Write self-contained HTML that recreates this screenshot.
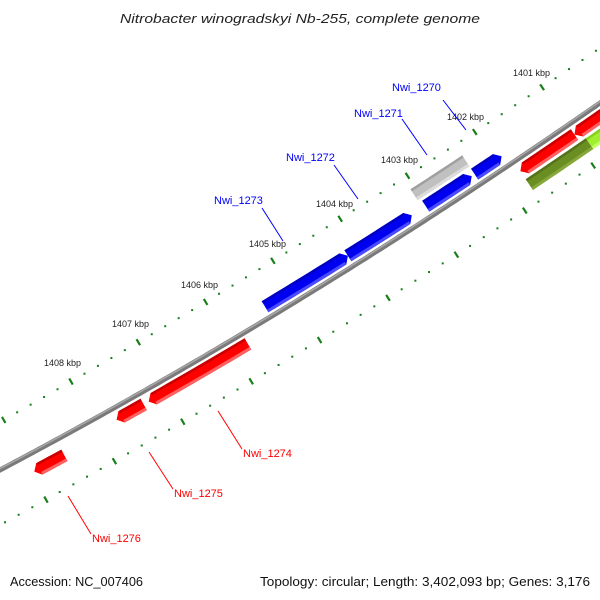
<!DOCTYPE html>
<html><head><meta charset="utf-8"><style>
html,body{margin:0;padding:0;background:#fff;}
svg{display:block;}
text{font-family:"Liberation Sans",sans-serif;}
</style></head><body>
<svg id="s" width="600" height="600" viewBox="0 0 600 600" xmlns="http://www.w3.org/2000/svg">
<text x="120" y="23" textLength="360" lengthAdjust="spacingAndGlyphs" font-size="13" font-style="italic" fill="#222">Nitrobacter winogradskyi Nb-255, complete genome</text>
<text x="10" y="586" textLength="133" lengthAdjust="spacingAndGlyphs" font-size="13" fill="#111">Accession: NC_007406</text>
<text x="260" y="586" textLength="330" lengthAdjust="spacingAndGlyphs" font-size="13" fill="#111">Topology: circular; Length: 3,402,093 bp; Genes: 3,176</text>
<g id="g"></g>
<g font-size="9" fill="#222">
<text x="44" y="366">1408 kbp</text>
<text x="112" y="327">1407 kbp</text>
<text x="181" y="288">1406 kbp</text>
<text x="249" y="247">1405 kbp</text>
<text x="316" y="207">1404 kbp</text>
<text x="381" y="163">1403 kbp</text>
<text x="447" y="120">1402 kbp</text>
<text x="513" y="76">1401 kbp</text>
</g>
<g font-size="11" fill="#0000ff">
<text x="392" y="91">Nwi_1270</text>
<text x="354" y="117">Nwi_1271</text>
<text x="286" y="161">Nwi_1272</text>
<text x="214" y="204">Nwi_1273</text>
</g>
<g stroke="#0000ff" stroke-width="1">
<line x1="443" y1="100" x2="466" y2="130"/>
<line x1="402" y1="119" x2="427" y2="155"/>
<line x1="334" y1="165" x2="358" y2="199"/>
<line x1="262" y1="208" x2="283" y2="241"/>
</g>
<g font-size="11" fill="#ff0000">
<text x="243" y="457">Nwi_1274</text>
<text x="174" y="497">Nwi_1275</text>
<text x="92" y="542">Nwi_1276</text>
</g>
<g stroke="#ff0000" stroke-width="1">
<line x1="218" y1="411" x2="242" y2="449"/>
<line x1="149" y1="452" x2="173" y2="489"/>
<line x1="68" y1="496" x2="91" y2="534"/>
</g>
</svg>
<script>
var NS="http://www.w3.org/2000/svg",G=document.getElementById('g');
function mk(t,a){var e=document.createElementNS(NS,t);for(var k in a)e.setAttribute(k,a[k]);G.appendChild(e);return e;}
function ring(y0,c,y2){return function(x,d){var t=x/600;var y=(1-t)*(1-t)*y0+2*t*(1-t)*c+t*t*y2;var dy=2*(1-t)*(c-y0)+2*t*(y2-c);var L=Math.hypot(600,dy);var nx=dy/L,ny=-600/L;return [x+nx*d,y+ny*d];};}
var B=ring(470,311.5,103),O=ring(422,253,48),I=ring(525,361,161);
function ticks(R,x0,sp){for(var k=-2;k<12;k++){var xm=x0+k*sp;for(var j=0;j<5;j++){var x=xm+j*sp/5;if(x<0||x>600)continue;if(j==0){var a=R(x,-3.5),b=R(x,3.5);mk('line',{x1:a[0],y1:a[1],x2:b[0],y2:b[1],stroke:'#1a7f1a','stroke-width':2.2});}else{var p=R(x,0);mk('rect',{x:p[0]-1,y:p[1]-1,width:2,height:2,fill:'#1a7f1a'});}}}}
ticks(O,71,67.3);ticks(I,46,68.4);
function pts(a){return a.map(function(p){return p[0].toFixed(1)+','+p[1].toFixed(1)}).join(' ');}
function band(xa,xb,r1,r2,n){var a=[];for(var i=0;i<=n;i++)a.push(B(xa+(xb-xa)*i/n,r1));for(var i=n;i>=0;i--)a.push(B(xa+(xb-xa)*i/n,r2));return a;}
function gene(xa,xb,r1,r2,dir,c,dk,lt){
 var tip=dir==0?0:5,n=10,a=[];
 var xs=dir<0?xa+tip:xa,xe=dir>0?xb-tip:xb;
 for(var i=0;i<=n;i++)a.push(B(xs+(xe-xs)*i/n,r1));
 if(dir>0)a.push(B(xb,(r1+r2)/2));
 for(var i=n;i>=0;i--)a.push(B(xs+(xe-xs)*i/n,r2));
 if(dir<0)a.push(B(xa,(r1+r2)/2));
 mk('polygon',{points:pts(a),fill:c});
 var top=Math.max(r1,r2),bot=Math.min(r1,r2);
 mk('polygon',{points:pts(band(xs,xe,top,top-2.5,n)),fill:dk});
 mk('polygon',{points:pts(band(xs,xe,bot,bot+3,n)),fill:lt});
}
var bp=[];for(var x=-5;x<=605;x+=5)bp.push(B(x,0));
mk('polyline',{points:pts(bp),fill:'none',stroke:'#7a7a7a','stroke-width':5});
var bp2=[];for(var x=-5;x<=605;x+=5)bp2.push(B(x,1.2));
mk('polyline',{points:pts(bp2),fill:'none',stroke:'#a8a8a8','stroke-width':1.5});
var BL=['#0000f0','#0000c0','#4a4aff'],RD=['#ff0000','#c80000','#ff6060'];
gene(271,354,5,18,1,BL[0],BL[1],BL[2]);
gene(354,418,5,18,1,BL[0],BL[1],BL[2]);
gene(432,478,5,18,1,BL[0],BL[1],BL[2]);
gene(481,508,5,18,1,BL[0],BL[1],BL[2]);
gene(429,481,21,34,0,'#c0c0c0','#a0a0a0','#dcdcdc');
gene(143,242,-5,-18,-1,RD[0],RD[1],RD[2]);
gene(111,138,-5,-18,-1,RD[0],RD[1],RD[2]);
gene(26,56,-11,-24,-1,RD[0],RD[1],RD[2]);
gene(514,568,-5,-18,-1,RD[0],RD[1],RD[2]);
gene(568,610,-5,-18,-1,RD[0],RD[1],RD[2]);
gene(514,574,-21,-34,0,'#6b8e23','#55731a','#86a83a');
gene(574,612,-21,-34,0,'#a0f030','#88d020','#c0ff60');
</script>
</body></html>
